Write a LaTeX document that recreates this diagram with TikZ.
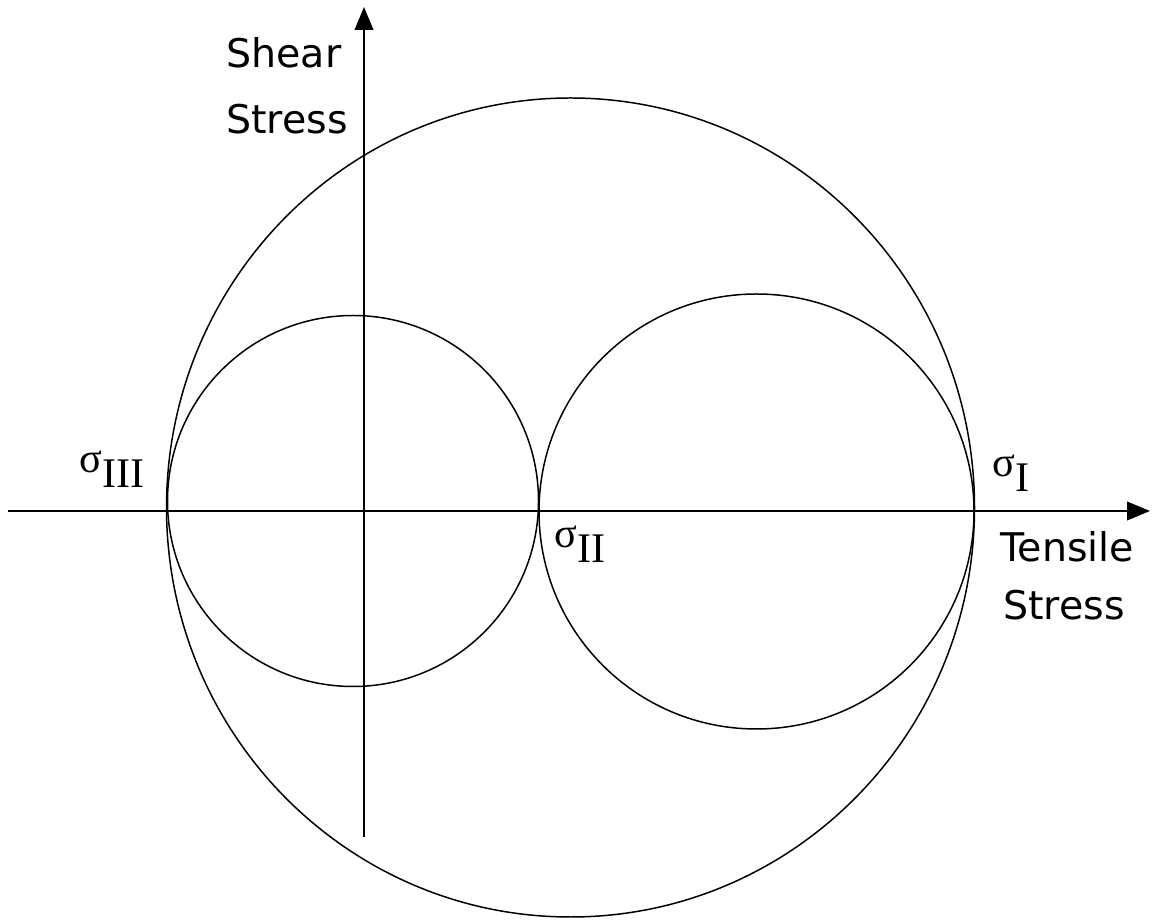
\documentclass[tikz,border=0pt]{standalone}
\usepackage{fontspec}
\setmainfont{Liberation Serif}
\newfontfamily\labfont{DejaVu Sans}
\usetikzlibrary{arrows.meta}
\newcommand{\sigl}[1]{σ\raisebox{-8pt}{#1}}
\tikzset{
  axis/.style={line width=1.2pt, -{Triangle[length=13pt,width=10.5pt]}},
  mohr/.style={line width=0.85pt},
  lab/.style={inner sep=0pt, anchor=base west, font=\labfont\fontsize{22.5}{26}\selectfont},
  siglab/.style={inner sep=0pt, anchor=base west, font=\fontsize{24}{28}\selectfont},
}
\begin{document}
\begin{tikzpicture}[x=0.02cm,y=0.02cm]
\useasboundingbox (0,0) rectangle (1152,919);
% axes
\coordinate (xs) at (8,408);
\coordinate (xe) at (1150,408);
\coordinate (ys) at (364,82);
\coordinate (ye) at (364,912);
\draw[axis] (xs) -- (xe);
\draw[axis] (ys) -- (ye);
% circles
\coordinate (cb) at (570.5,411.5);
\coordinate (cl) at (353,418);
\coordinate (cr) at (756.5,407.5);
\draw[mohr] (cb) ellipse [x radius=404, y radius=409.5];
\draw[mohr] (cl) circle [radius=185.5];
\draw[mohr] (cr) circle [radius=217.5];
% labels
\node[siglab] (s3) at (79,446) {\sigl{III}};
\node[siglab] (s2) at (554,371) {\sigl{II}};
\node[siglab] (s1) at (992,442) {\sigl{I}};
\node[lab] (t1) at (1000,357) {Tensile};
\node[lab] (t2) at (1003,299) {Stress};
\node[lab] (h1) at (226,851) {Shear};
\node[lab] (h2) at (226,785) {Stress};
\end{tikzpicture}
\end{document}
